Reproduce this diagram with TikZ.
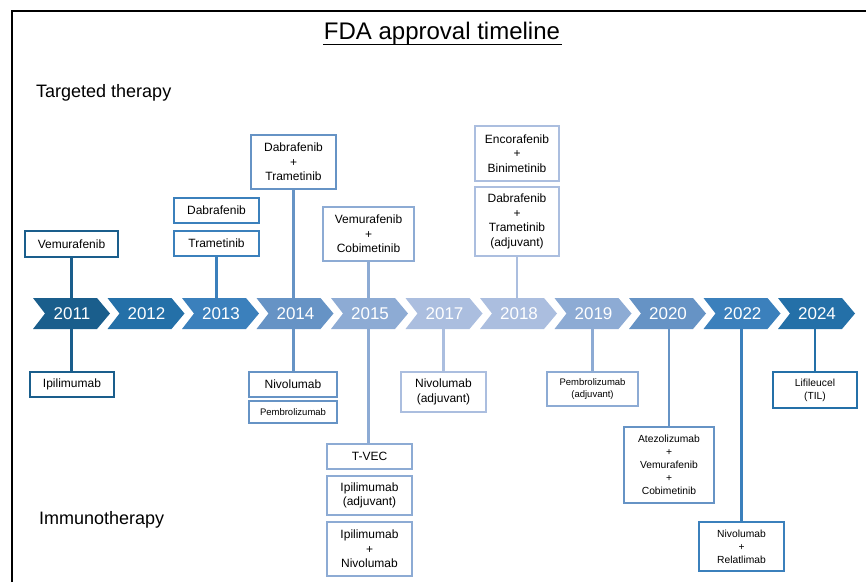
\documentclass[tikz,border=0pt]{standalone}
\usepackage{fontspec}
\setmainfont{Liberation Sans}
\pgfdeclarelayer{bg}
\pgfsetlayers{bg,main}
\definecolor{c1}{HTML}{1A5E8C}
\definecolor{c2}{HTML}{2470A8}
\definecolor{c3}{HTML}{3B80BC}
\definecolor{c4}{HTML}{6693C5}
\definecolor{c5}{HTML}{8DABD4}
\definecolor{c6}{HTML}{ABBEDF}
\begin{document}
\begin{tikzpicture}[x=1pt,y=-1pt,
  bx/.style={draw, line width=1.2pt, fill=white, align=center, inner sep=0pt,
    font=\fontsize{12}{14.5}\selectfont},
  sm/.style={font=\fontsize{10.3}{13}\selectfont},
  xs/.style={font=\fontsize{9.5}{12}\selectfont},
  yr/.style={text=white, font=\fontsize{17}{20}\selectfont, inner sep=0pt, minimum height=31pt},
  conn/.style={line width=2.8pt},
  lbl/.style={font=\fontsize{18}{21}\selectfont, anchor=west, inner sep=0pt}]
\useasboundingbox (0,0) rectangle (866,582);
\draw[line width=2pt] (11.5,582) -- (11.5,10.5) -- (866,10.5);
\node[font=\fontsize{24}{28}\selectfont, inner sep=0pt] (title) at (442,33.5) {FDA approval timeline};
\draw[line width=1pt] (323,44) -- (562,44);
\node[lbl] (tt) at (36,93) {Targeted therapy};
\node[lbl] (im) at (39,520) {Immunotherapy};
% chevrons
\foreach \i/\yr/\col in {0/2011/c1,1/2012/c2,2/2013/c3,3/2014/c4,4/2015/c5,5/2017/c6,6/2018/c6,7/2019/c5,8/2020/c4,9/2022/c3,10/2024/c2}{
  \pgfmathsetmacro\L{33+74.5*\i}
  \fill[\col] (\L,298) -- ++(64,0) -- ++(13,15.5) -- ++(-13,15.5) -- ++(-64,0) -- ++(12,-15.5) -- cycle;
  \node[yr] (y\yr) at (\L+39,313.5) {\yr};
}
% top boxes
\node[bx, draw=c1, minimum width=93pt, minimum height=26pt] (v11) at (71.5,244) {Vemurafenib};
\node[bx, draw=c3, minimum width=85pt, minimum height=25pt] (d13) at (216.5,210.5) {Dabrafenib};
\node[bx, draw=c3, minimum width=85pt, minimum height=25pt] (t13) at (216.5,243.5) {Trametinib};
\node[bx, draw=c4, minimum width=85pt, minimum height=54pt] (dt14) at (293.5,162) {Dabrafenib\\+\\Trametinib};
\node[bx, draw=c5, minimum width=91pt, minimum height=54pt] (vc15) at (368.5,234) {Vemurafenib\\+\\Cobimetinib};
\node[bx, draw=c6, minimum width=84pt, minimum height=55pt] (eb18) at (517,153.5) {Encorafenib\\+\\Binimetinib};
\node[bx, draw=c6, minimum width=84pt, minimum height=69pt] (dta18) at (517,221.5) {Dabrafenib\\+\\Trametinib\\(adjuvant)};
% bottom boxes
\node[bx, draw=c1, minimum width=84pt, minimum height=25pt] (ip11) at (72,384.5) {Ipilimumab};
\node[bx, draw=c4, minimum width=88pt, minimum height=25pt] (n14) at (293,384.5) {Nivolumab};
\node[bx, xs, draw=c4, minimum width=88pt, minimum height=22pt] (p14) at (293,412) {Pembrolizumab};
\node[bx, draw=c5, minimum width=85pt, minimum height=25pt] (tv15) at (369.5,456.5) {T-VEC};
\node[bx, draw=c5, minimum width=85pt, minimum height=39pt] (ia15) at (369.5,495.5) {Ipilimumab\\(adjuvant)};
\node[bx, draw=c5, minimum width=85pt, minimum height=54pt] (in15) at (369.5,549) {Ipilimumab\\+\\Nivolumab};
\node[bx, draw=c6, minimum width=85pt, minimum height=40pt] (na17) at (443.5,392) {Nivolumab\\(adjuvant)};
\node[bx, xs, draw=c5, minimum width=91pt, minimum height=34pt] (pa19) at (592.5,389) {Pembrolizumab\\(adjuvant)};
\node[bx, sm, draw=c4, minimum width=90pt, minimum height=76pt] (avc20) at (669,465) {Atezolizumab\\+\\Vemurafenib\\+\\Cobimetinib};
\node[bx, sm, draw=c3, minimum width=85pt, minimum height=49pt] (nr22) at (741.5,546.5) {Nivolumab\\+\\Relatlimab};
\node[bx, sm, draw=c2, minimum width=84pt, minimum height=36pt] (lt24) at (815,390) {Lifileucel\\(TIL)};
% connectors
\begin{pgfonlayer}{bg}
\draw[conn, c1] (v11.south) -- (v11.south |- ip11.north);
\draw[conn, c3] (t13.south) -- (t13.south |- y2013.center);
\draw[conn, c4] (dt14.south) -- (dt14.south |- n14.north);
\draw[conn, c5] (vc15.south) -- (vc15.south |- tv15.north);
\draw[conn, c6] (na17.north) -- (na17.north |- y2017.center);
\draw[conn, c6] (dta18.south) -- (dta18.south |- y2018.center);
\draw[conn, c5] (pa19.north) -- (pa19.north |- y2019.center);
\draw[conn, c4] (avc20.north) -- (avc20.north |- y2020.center);
\draw[conn, c3] (nr22.north) -- (nr22.north |- y2022.center);
\draw[conn, c2] (lt24.north) -- (lt24.north |- y2024.center);
\end{pgfonlayer}
\end{tikzpicture}
\end{document}
